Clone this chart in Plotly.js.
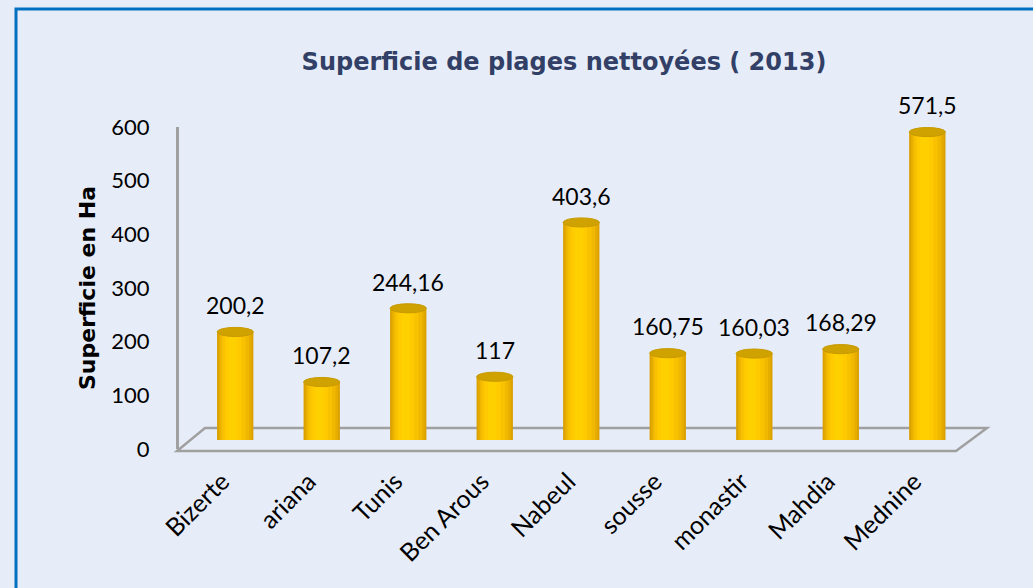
<!DOCTYPE html>
<html><head><meta charset="utf-8">
<script src="https://cdn.plot.ly/plotly-3.0.1.min.js"></script>
<style>html,body{margin:0;padding:0;background:#E7EDF8;}#c{width:1033px;height:588px;}</style>
</head><body><div id="c"></div>
<script>
const categories = ["Bizerte","ariana","Tunis","Ben Arous","Nabeul","sousse","monastir","Mahdia","Mednine"];
const values = [200.2,107.2,244.16,117,403.6,160.75,160.03,168.29,571.5];
const valueLabels = ["200,2","107,2","244,16","117","403,6","160,75","160,03","168,29","571,5"];
const yTicks = [0,100,200,300,400,500,600];

const W=1033,H=588;
const px=x=>x/W, py=y=>1-y/H;
const FONT="Lato, 'DejaVu Sans', sans-serif";
const BFONT="'DejaVu Sans', sans-serif";
const idx = categories.map((c,i)=>i);

const layers = [
  [0.42,-0.21,'#D9A000'],
  [0.38,-0.19,'#E6AC00'],
  [0.33,-0.17,'#F0B800'],
  [0.27,-0.15,'#F8C200'],
  [0.19,-0.12,'#FFCA00'],
  [0.10,-0.08,'#FFD000']
];
const traces = layers.map(l=>({type:'bar',x:idx,y:values,width:l[0],offset:l[1],
  marker:{color:l[2],line:{width:0}},hoverinfo:'skip'}));
traces.push({type:'scatter',x:idx,y:values,yaxis:'y2',mode:'markers',marker:{opacity:0},hoverinfo:'skip',showlegend:false});

const shapes = [];
shapes.push({type:'path',xref:'paper',yref:'paper',layer:'below',
  path:`M ${px(177)} ${py(451)} L ${px(956)} ${py(451)} L ${px(987)} ${py(428)} L ${px(205)} ${py(428)} Z`,
  line:{color:'#A0A0A0',width:2.5},fillcolor:'rgba(0,0,0,0)'});
shapes.push({type:'rect',xref:'paper',yref:'paper',layer:'below',
  x0:px(16),x1:px(1040),y0:py(600),y1:py(9),line:{color:'#0070C0',width:3},fillcolor:'rgba(0,0,0,0)'});
values.forEach((v,i)=>{
  shapes.push({type:'circle',xref:'x',yref:'y',layer:'below',x0:i-0.21,x1:i+0.21,y0:-8,y1:8,
    fillcolor:'#F0B800',line:{width:0}});
  shapes.push({type:'circle',xref:'x',yref:'y',layer:'above',x0:i-0.21,x1:i+0.21,y0:v-8,y1:v+9,
    fillcolor:'#D0A200',line:{color:'#C79A00',width:1}});
});

const annotations = values.map((v,i)=>({x:i,y:v,xref:'x',yref:'y',text:valueLabels[i],showarrow:false,
  yshift:27,font:{family:FONT,size:23,color:'#000'}}));

const layout = {
  width:W,height:H,margin:{l:0,r:0,t:0,b:0},
  paper_bgcolor:'#E7EDF8',plot_bgcolor:'rgba(0,0,0,0)',
  showlegend:false,barmode:'overlay',
  title:{text:'<b>Superficie de plages nettoyées ( 2013)</b>',x:px(564),xanchor:'center',y:py(62),yanchor:'middle',
    font:{family:BFONT,size:24,color:'#323F66'}},
  xaxis:{domain:[px(177),px(987)],range:[-0.673,8.69],tickvals:idx,ticktext:categories,tickangle:-45,
    ticks:'outside',ticklen:16,tickcolor:'rgba(0,0,0,0)',ticklabelshift:-13,showgrid:false,showline:false,zeroline:false,
    tickfont:{family:FONT,size:25,color:'#000'},anchor:'y',fixedrange:true},
  yaxis:{domain:[py(440),py(117)],range:[0,600],visible:false,fixedrange:true},
  yaxis2:{domain:[py(449),py(127)],range:[0,600],anchor:'free',position:px(177),side:'left',
    tickvals:yTicks,showgrid:false,zeroline:false,showline:true,linecolor:'#A0A0A0',linewidth:2.5,
    ticks:'',tickfont:{family:FONT,size:22,color:'#000'},ticklabelstandoff:22,
    title:{text:'<b>Superficie en Ha</b>',font:{family:BFONT,size:22,color:'#000'},standoff:8},fixedrange:true},
  shapes:shapes,annotations:annotations
};
Plotly.newPlot('c',traces,layout,{displayModeBar:false,staticPlot:true});
</script></body></html>
